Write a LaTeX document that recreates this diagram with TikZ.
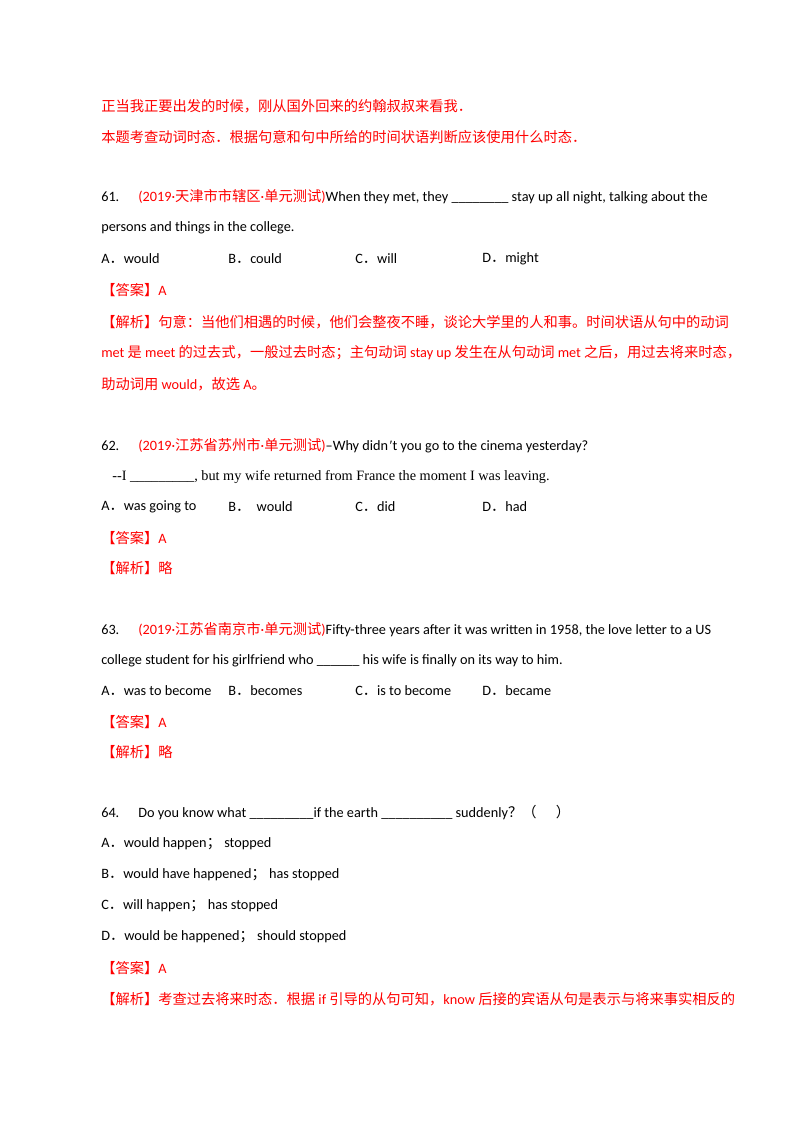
\documentclass[tikz,border=0pt]{standalone}
\usepackage{fontspec}
\setmainfont{Carlito}
\newfontfamily\cjk{Noto Sans CJK SC}
\newfontfamily\tnr{Liberation Serif}
\newcommand\zh[1]{{\cjk #1}}
\definecolor{red}{RGB}{255,0,0}
\begin{document}
\begin{tikzpicture}[x=0.75pt,y=-0.75pt,
  t/.style={anchor=west,inner sep=0pt,font=\fontsize{10.7}{13}\selectfont},
  r/.style={t,text=red}]
\useasboundingbox (0,0) rectangle (800,1132);
\fill[white] (0,0) rectangle (800,1132);
\node[r] (l1) at (101,106) {\zh{正当我正要出发的时候，刚从国外回来的约翰叔叔来看我．}};
\node[r] (l2) at (101,137) {\zh{本题考查动词时态．根据句意和句中所给的时间状语判断应该使用什么时态．}};
% 61
\node[t] (n61) at (101,197) {61.};
\node[t] (q61) at (138,197) {\textcolor{red}{(2019·\zh{天津市市辖区}·\zh{单元测试})}When they met, they \_\_\_\_\_\_\_\_ stay up all night, talking about the};
\node[t] (q61b) at (101,228) {persons and things in the college.};
\node[t] (a61) at (101,259) {A\zh{．}would};
\node[t] (b61) at (228,259) {B\zh{．}could};
\node[t] (c61) at (355,259) {C\zh{．}will};
\node[t] (d61) at (482,259) {D\zh{．}might};
\node[r] (ans61) at (101,290) {\zh{【答案】}A};
\node[r] (ex61a) at (101,322) {\zh{【解析】句意：当他们相遇的时候，他们会整夜不睡，谈论大学里的人和事。时间状语从句中的动词}};
\node[r] (ex61b) at (101,353) {met \zh{是} meet \zh{的过去式，一般过去时态；主句动词} stay up \zh{发生在从句动词} met \zh{之后，用过去将来时态，}};
\node[r] (ex61c) at (101,384) {\zh{助动词用} would\zh{，故选} A\zh{。}};
% 62
\node[t] (n62) at (101,446) {62.};
\node[t] (q62) at (138,446) {\textcolor{red}{(2019·\zh{江苏省苏州市}·\zh{单元测试})}--Why didn\kern1pt{\tnr\char"02B9}t you go to the cinema yesterday?};
\node[t] (q62b) at (112,477) {\tnr --I \_\_\_\_\_\_\_\_\_, but my wife returned from France the moment I was leaving.};
\node[t] (a62) at (101,507) {A\zh{．}was going to};
\node[t] (b62) at (228,507) {B\zh{．}\ \ would};
\node[t] (c62) at (355,507) {C\zh{．}did};
\node[t] (d62) at (482,507) {D\zh{．}had};
\node[r] (ans62) at (101,538) {\zh{【答案】}A};
\node[r] (ex62) at (101,568) {\zh{【解析】略}};
% 63
\node[t] (n63) at (101,630) {63.};
\node[t] (q63) at (138,630) {\textcolor{red}{(2019·\zh{江苏省南京市}·\zh{单元测试})}Fifty-three years after it was written in 1958, the love letter to a US};
\node[t] (q63b) at (101,661) {college student for his girlfriend who \_\_\_\_\_\_ his wife is finally on its way to him.};
\node[t] (a63) at (101,691) {A\zh{．}was to become};
\node[t] (b63) at (228,691) {B\zh{．}becomes};
\node[t] (c63) at (355,691) {C\zh{．}is to become};
\node[t] (d63) at (482,691) {D\zh{．}became};
\node[r] (ans63) at (101,722) {\zh{【答案】}A};
\node[r] (ex63) at (101,752) {\zh{【解析】略}};
% 64
\node[t] (n64) at (101,813) {64.};
\node[t] (q64) at (138,813) {Do you know what \_\_\_\_\_\_\_\_\_if the earth \_\_\_\_\_\_\_\_\_\_ suddenly\zh{？（\ \ \ \ \ \ ）}};
\node[t] (a64) at (101,844) {A\zh{．}would happen\zh{；} stopped};
\node[t] (b64) at (101,875) {B\zh{．}would have happened\zh{；} has stopped};
\node[t] (c64) at (101,906) {C\zh{．}will happen\zh{；} has stopped};
\node[t] (d64) at (101,937) {D\zh{．}would be happened\zh{；} should stopped};
\node[r] (ans64) at (101,968) {\zh{【答案】}A};
\node[r] (ex64) at (101,999) {\zh{【解析】考查过去将来时态．根据} if \zh{引导的从句可知，}know \zh{后接的宾语从句是表示与将来事实相反的}};
\end{tikzpicture}
\end{document}
